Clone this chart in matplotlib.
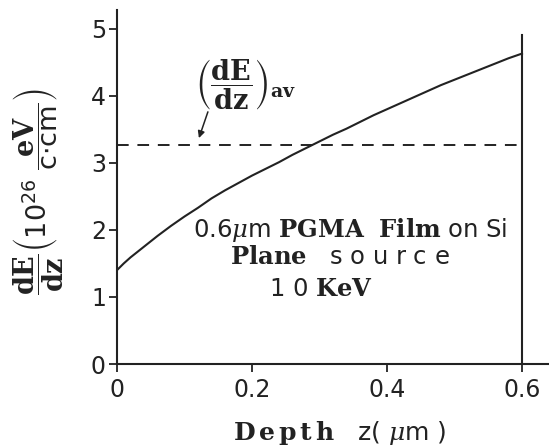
import matplotlib
matplotlib.use("Agg")
import matplotlib.pyplot as plt

plt.rcParams['font.family'] = ['DejaVu Sans']
plt.rcParams['mathtext.fontset'] = 'dejavuserif'

# Data
depth = [0, 0.01, 0.02, 0.03, 0.04, 0.05, 0.06, 0.08, 0.10, 0.12, 0.14, 0.16,
         0.18, 0.20, 0.22, 0.24, 0.26, 0.28, 0.30, 0.32, 0.34, 0.36, 0.38,
         0.40, 0.42, 0.44, 0.46, 0.48, 0.50, 0.52, 0.54, 0.56, 0.58, 0.60]
dEdz = [1.40, 1.50, 1.59, 1.67, 1.75, 1.83, 1.91, 2.06, 2.20, 2.33, 2.47, 2.59,
        2.70, 2.81, 2.91, 3.01, 3.12, 3.22, 3.32, 3.42, 3.51, 3.61, 3.71,
        3.80, 3.89, 3.98, 4.07, 4.16, 4.24, 4.32, 4.40, 4.48, 4.56, 4.63]
dEdz_avg = 3.26
film_thickness = 0.6
boundary_top = 4.9
xticks = [0, 0.2, 0.4, 0.6]
xtick_labels = ['0', '0.2', '0.4', '0.6']
yticks = [0, 1, 2, 3, 4, 5]
ytick_labels = ['0', '1', '2', '3', '4', '5']

ink = '#222222'
fig = plt.figure(figsize=(5.49, 4.47), dpi=100)
ax = fig.add_axes([117/549, 1 - 364/447, 432/549, 354/447])
ax.set_xlim(0, 0.64)
ax.set_ylim(0, 5.28)

ax.plot(depth, dEdz, color=ink, lw=1.5)
ax.plot([0, film_thickness], [dEdz_avg, dEdz_avg], color=ink, lw=1.4,
        dashes=(6, 4.5))
ax.plot([film_thickness, film_thickness], [0, boundary_top], color=ink, lw=1.5)

for s in ['top', 'right']:
    ax.spines[s].set_visible(False)
for s in ['left', 'bottom']:
    ax.spines[s].set_color(ink)
    ax.spines[s].set_linewidth(1.5)

ax.set_xticks(xticks)
ax.set_xticklabels(xtick_labels)
ax.set_yticks(yticks)
ax.set_yticklabels(ytick_labels)
ax.tick_params(axis='both', direction='out', length=6, width=1.3, color=ink,
               labelsize=17, labelcolor=ink)
ax.tick_params(axis='x', pad=4)
ax.tick_params(axis='y', pad=2)

ax.set_xlabel(r'$\mathbf{D\,e\,p\,t\,h}$   z( $\mu$m )', fontsize=18, color=ink)
ax.xaxis.set_label_coords(0.515, -0.155)
ax.xaxis.label.set_va('top')

fig.text(39/549, 1 - 192/447,
         r'$\dfrac{\mathbf{dE}}{\mathbf{dz}}\left(\mathsf{10^{26}}\ \dfrac{\mathbf{eV}}{\mathsf{c{\cdot}cm}}\right)$',
         rotation=90, ha='center', va='center', fontsize=19.5, color=ink)

ax.text(0.19, 4.17,
        r'$\left(\dfrac{\mathbf{dE}}{\mathbf{dz}}\right)_{\mathsf{\mathbf{av}}}$',
        ha='center', va='center', fontsize=19.5, color=ink)
ax.annotate('', xy=(0.12, 3.33), xytext=(0.136, 3.80),
            arrowprops=dict(arrowstyle='-|>', color=ink, lw=1.1,
                            mutation_scale=10))

ax.text(0.345, 2.0, r'0.6$\mu$m $\mathbf{PGMA\ \ Film}$ on Si', ha='center',
        va='center', fontsize=17.5, color=ink)
ax.text(0.33, 1.60, r'$\mathbf{Plane}$   s o u r c e', ha='center', va='center',
        fontsize=17.5, color=ink)
ax.text(0.302, 1.12, r'1 0 $\mathbf{KeV}$', ha='center', va='center',
        fontsize=17.5, color=ink)

fig.savefig('out.png', dpi=100, facecolor='white')
